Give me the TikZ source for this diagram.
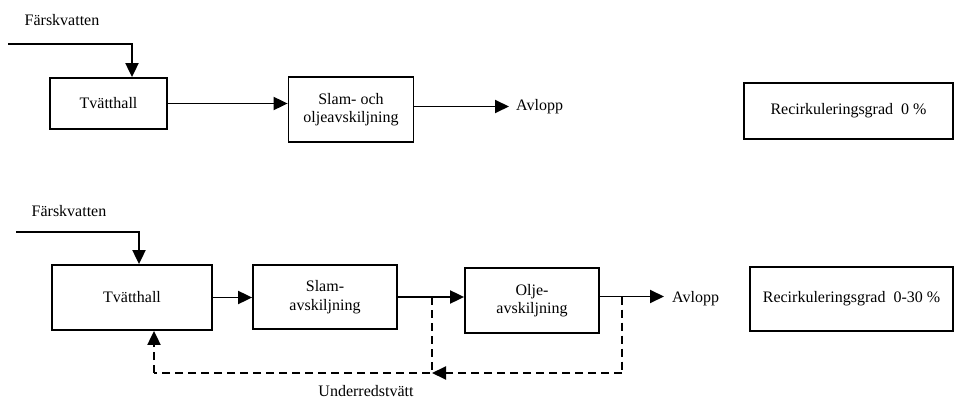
\documentclass[tikz,border=0pt]{standalone}
\usepackage{fontspec}
\setmainfont{Liberation Serif}
\usetikzlibrary{arrows.meta}
\begin{document}
\begin{tikzpicture}[x=1pt,y=-1pt,
  every node/.style={font=\fontsize{16}{18.5}\selectfont},
  box/.style={draw,line width=1.8pt,align=center,inner sep=0pt},
  lbl/.style={inner sep=0pt},
  flow/.style={line width=1.9pt,-{Triangle[length=14pt,width=13pt]}},
  ret/.style={line width=1.9pt,dash pattern=on 8pt off 5pt},
  retarrow/.style={ret,-{Triangle[length=14pt,width=13pt]}}]
\useasboundingbox (0,0) rectangle (959,398);

% ---- upper process: no recirculation ----
\node[lbl] (fv1) at (62,20) {Färskvatten};
\coordinate (in1) at (8,44);
\node[box,minimum width=117pt,minimum height=51pt] (t1) at (108.5,103.5) {Tvätthall};
\node[box,minimum width=125pt,minimum height=65pt] (s1) at (351,109.5) {Slam- och\\oljeavskiljning};
\node[lbl,anchor=west] (avl1) at (516,107) {Avlopp};
\node[box,minimum width=209pt,minimum height=56pt] (rc1) at (848.5,111) {Recirkuleringsgrad\ \ 0 \%};
\coordinate (k1) at (132,44);

\draw[flow] (in1) -- (k1) -- (k1 |- t1.north);
\draw[flow] (t1.east) -- (t1.east -| s1.west);
\draw[flow] ([yshift=3pt]s1.east) -- ([yshift=3pt,xshift=-7pt]s1.east -| avl1.west);

% ---- lower process: with recirculation ----
\node[lbl] (fv2) at (69,211) {Färskvatten};
\coordinate (in2) at (16,232);
\coordinate (k2) at (139,232);
\node[box,minimum width=160pt,minimum height=65pt] (t2) at (132,297.5) {Tvätthall};
\node[box,minimum width=144pt,minimum height=64pt] (s2) at (325,297) {Slam-\\avskiljning};
\node[box,minimum width=134pt,minimum height=65pt] (o2) at (532,300.5) {Olje-\\avskiljning};
\node[lbl,anchor=west] (avl2) at (672,299) {Avlopp};
\node[box,minimum width=203pt,minimum height=64pt] (rc2) at (851.5,299) {Recirkuleringsgrad\ \ 0-30 \%};
\node[lbl] (ur) at (366,391) {Underredstvätt};

\draw[flow] (in2) -- (k2) -- (k2 |- t2.north);
\draw[flow] (t2.east) -- (t2.east -| s2.west);
\draw[flow] (s2.east) -- (s2.east -| o2.west);
\draw[flow] ([yshift=4pt]o2.east) -- ([yshift=4pt,xshift=-8pt]o2.east -| avl2.west);

% return line for underbody washing
\coordinate (j1) at (432,297);
\coordinate (b1) at (432,373);
\coordinate (j2) at (622,296.5);
\coordinate (b2) at (622,373);
\coordinate (b0) at (154,373);
\draw[ret] (j2) -- (b2);
\draw[retarrow] (b2) -- (b1);
\draw[ret] (j1) -- (b1) -- (b0);
\draw[retarrow] (b0) -- (b0 |- t2.south);
\end{tikzpicture}
\end{document}
